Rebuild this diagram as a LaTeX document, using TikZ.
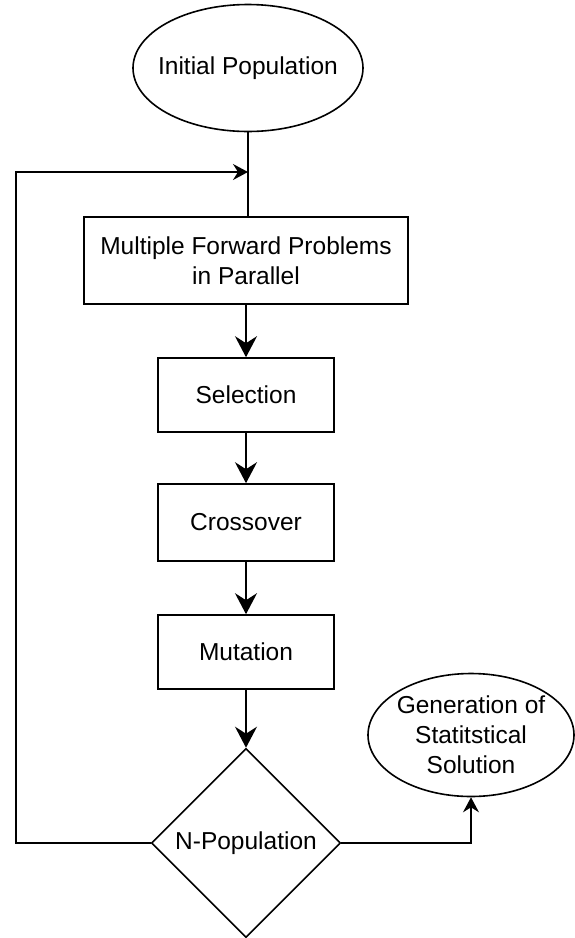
\documentclass[tikz,border=0pt]{standalone}
\usepackage{fontspec}
\setmainfont{Liberation Sans}
\usetikzlibrary{arrows.meta,shapes.geometric}

\begin{document}
\begin{tikzpicture}[x=1pt,y=-1pt,line width=1.6pt,
  every node/.style={font=\fontsize{24.5}{30}\selectfont,align=center,inner sep=0pt},
  stepbox/.style={draw,rectangle,minimum width=176pt,minimum height=74pt},
  endbox/.style={draw,ellipse,inner xsep=-30pt,inner ysep=-6pt},
  bigarrow/.style={-{Stealth[length=21pt,width=22pt,inset=7pt]}},
  smallarrow/.style={-{Stealth[length=15pt,width=16pt,inset=5pt]}}]
  \useasboundingbox (0,0) rectangle (575,938);
  \node[endbox,minimum width=230pt,minimum height=127pt] (init) at (248,68) {Initial Population};
  \node[draw,rectangle,minimum width=324pt,minimum height=87pt] (multi) at (246,260.5) {Multiple Forward Problems\\in Parallel};
  \node[stepbox] (select) at (246,395) {Selection};
  \node[stepbox,minimum height=77pt] (cross) at (246,522.5) {Crossover};
  \node[stepbox] (mutate) at (246,652) {Mutation};
  \node[draw,diamond,minimum width=189pt,minimum height=189pt] (npop) at (246,843) {N-Population};
  \node[endbox,minimum width=206pt,minimum height=123pt] (gen) at (471,735) {Generation of\\Statitstical\\Solution};
  \coordinate (join) at (248,172);
  \draw (init.south) -- (init.south |- multi.north);
  \draw[bigarrow] (multi) -- (select);
  \draw[bigarrow] (select) -- (cross);
  \draw[bigarrow] (cross) -- (mutate);
  \draw[bigarrow] (mutate) -- (npop);
  \draw[smallarrow] (npop.west) -- (16,843) -- (16,172) -- (join);
  \draw[smallarrow] (npop.east) -| (gen.south);
\end{tikzpicture}
\end{document}
